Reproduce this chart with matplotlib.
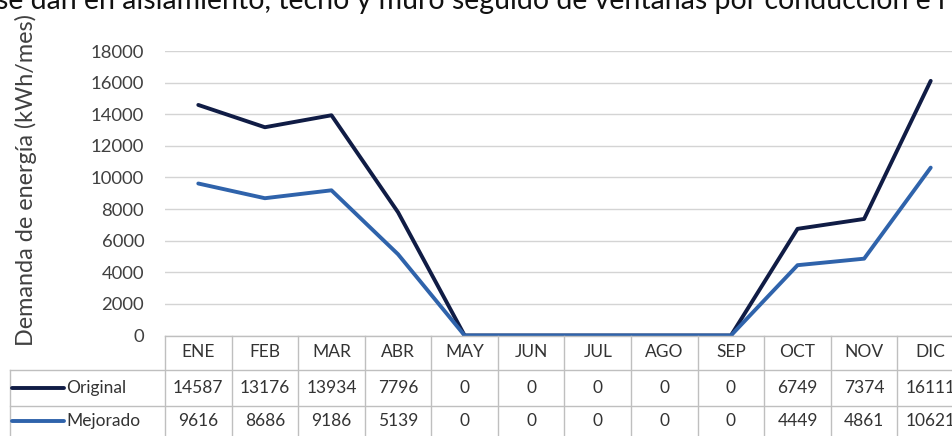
import matplotlib
matplotlib.use("Agg")
import matplotlib.pyplot as plt
from matplotlib.transforms import blended_transform_factory

plt.rcParams['font.family'] = ['Lato', 'DejaVu Sans']

meses = ['ENE', 'FEB', 'MAR', 'ABR', 'MAY', 'JUN', 'JUL', 'AGO', 'SEP', 'OCT', 'NOV', 'DIC']
original = [14587, 13176, 13934, 7796, 0, 0, 0, 0, 0, 6749, 7374, 16111]
mejorado = [9616, 8686, 9186, 5139, 0, 0, 0, 0, 0, 4449, 4861, 10621]
series = [('Original', original, '#101c45'), ('Mejorado', mejorado, '#2f63ab')]
y_ticks = list(range(0, 18001, 2000))

W, H = 953, 436
fig = plt.figure(figsize=(W / 100, H / 100), dpi=100)

# area del grafico en pixeles
left_px, right_px, top_px, bot_px = 165, 964, 51, 335.5
ax = fig.add_axes([left_px / W, 1 - bot_px / H, (right_px - left_px) / W, (bot_px - top_px) / H])

x = list(range(len(meses)))
for nombre, vals, col in series:
    ax.plot(x, vals, color=col, lw=2.8, solid_joinstyle='round', solid_capstyle='round')

ax.set_xlim(-0.5, len(meses) - 0.5)
ax.set_ylim(0, 18000)
ax.set_yticks(y_ticks)
ax.set_yticklabels([str(v) for v in y_ticks], fontsize=13.3, color='#404040')
ax.tick_params(axis='y', length=0, pad=15)
ax.set_xticks([])
ax.grid(axis='y', color='#d4d4d4', lw=1.0)
for s in ax.spines.values():
    s.set_visible(False)
ax.set_axisbelow(True)

# tabla de datos debajo del grafico
ah = bot_px - top_px
def ya(px):
    return (bot_px - px) / ah

def xa(px):
    return (px - left_px) / (right_px - left_px)

trx = blended_transform_factory(ax.transData, ax.transAxes)
grid_c = '#bfbfbf'
row_y = [370, 406, 440]
bottom = ya(440)

# lineas horizontales
ax.plot([0, 1.05], [0, 0], transform=ax.transAxes, color=grid_c, lw=1.0, clip_on=False)
for yp in row_y[:2]:
    ax.plot([xa(10), 1.05], [ya(yp), ya(yp)], transform=ax.transAxes, color=grid_c, lw=1.0, clip_on=False)
# lineas verticales
for i in range(len(meses) + 1):
    ax.plot([i - 0.5, i - 0.5], [0, bottom], transform=trx, color=grid_c, lw=1.0, clip_on=False)
ax.plot([xa(10), xa(10)], [ya(370), bottom], transform=ax.transAxes, color=grid_c, lw=1.0, clip_on=False)

for i, m in enumerate(meses):
    ax.text(i, ya(352), m, transform=trx, ha='center', va='center', fontsize=12.5, color='#333333')

row_centers = [388, 421]
for (nombre, vals, col), yc in zip(series, row_centers):
    ax.plot([xa(12), xa(64)], [ya(yc), ya(yc)], transform=ax.transAxes, color=col, lw=2.8,
            solid_capstyle='round', clip_on=False)
    ax.text(xa(66), ya(yc), nombre, transform=ax.transAxes, ha='left', va='center', fontsize=12.5, color='#333333')
    for i, v in enumerate(vals):
        ax.text(i, ya(yc), str(v), transform=trx, ha='center', va='center', fontsize=12.5, color='#333333')

# titulo del eje
fig.text(26 / W, 1 - 180 / H, 'Demanda de energía (kWh/mes)', rotation=90, ha='center', va='center',
         fontsize=16.8, color='#404040')

# texto cortado en la parte superior
fig.text(-4 / W, 1 - 9 / H, 'se dan en aislamiento, techo y muro seguido de ventanas por conducción e i',
         ha='left', va='baseline', fontsize=20.5, color='#111111')

fig.savefig('out.png', dpi=100)
